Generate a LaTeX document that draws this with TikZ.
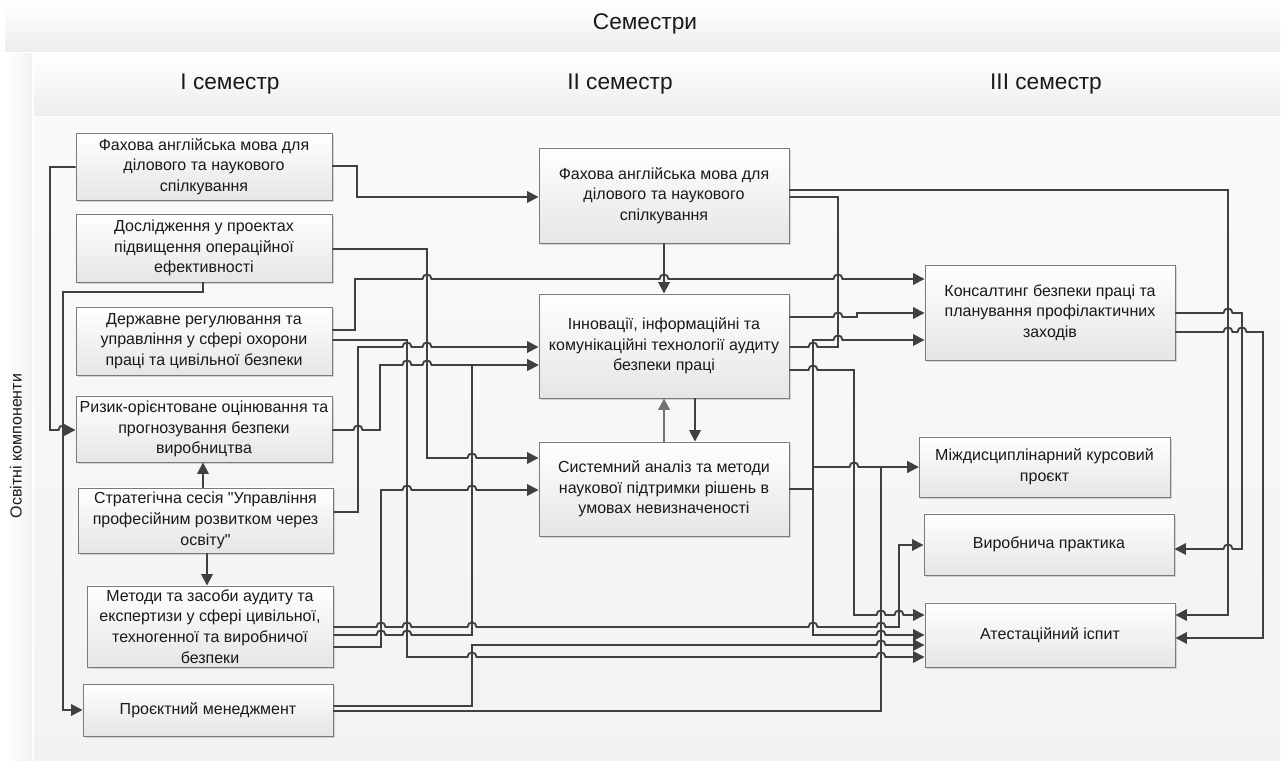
\documentclass[tikz,border=0pt]{standalone}
\usepackage{fontspec}
\setmainfont{Liberation Sans}
\newfontfamily\arialf{Liberation Sans}
\usetikzlibrary{arrows.meta,shadows}
\definecolor{ln}{HTML}{404040}
\definecolor{bx}{HTML}{7A7A7A}
\newcommand{\hj}[2]{-- ({#1-4.5},#2) .. controls ({#1-4.5},{#2-6}) and ({#1+4.5},{#2-6}) .. ({#1+4.5},#2)}
\newcommand{\hjl}[2]{-- ({#1+4.5},#2) .. controls ({#1+4.5},{#2-6}) and ({#1-4.5},{#2-6}) .. ({#1-4.5},#2)}
\tikzset{
  box/.style={draw=bx, line width=0.7pt, top color=white, bottom color=black!10,
    align=center, inner sep=0pt, font=\arialf\fontsize{12}{15.5}\selectfont, text=black!90,
    drop shadow={shadow xshift=1.3pt, shadow yshift=-1.3pt, fill=black!30, opacity=0.5}},
  conn/.style={draw=ln, line width=1.4pt},
  arr/.style={conn, -{Triangle[length=8.5pt,width=8.5pt]}},
  hdr/.style={font=\arialf\fontsize{17}{20}\selectfont, text=black!90, inner sep=0pt}
}
\begin{document}
\begin{tikzpicture}[x=0.75pt,y=-0.75pt]
\useasboundingbox (0,0) rectangle (1282,762);
\fill[white] (0,0) rectangle (1282,762);
% bands
\shade[top color=white, bottom color=black!7] (5,0) rectangle (1280,52);
\shade[left color=white, right color=black!5] (5,54) rectangle (32,760);
\shade[top color=white, bottom color=black!7] (34,54) rectangle (1280,116);
\shade[top color=black!2, bottom color=black!5] (34,118) rectangle (1280,760);
% headers
\node[hdr] (sem) at (645,24) {Семестри};
\node[hdr] (s1) at (230,84) {I семестр};
\node[hdr] (s2) at (620,84) {II семестр};
\node[hdr] (s3) at (1046,84) {III семестр};
\node[rotate=90, font=\arialf\fontsize{12}{14}\selectfont, text=black!90, inner sep=0pt] (lab) at (16,446) {Освітні компоненти};
% boxes
\node[box, minimum width=192pt, minimum height=50.25pt] (A1) at (204,166.5) {Фахова англійська мова для\\ділового та наукового\\спілкування};
\node[box, minimum width=192pt, minimum height=51pt] (A2) at (204,248) {Дослідження у проектах\\підвищення операційної\\ефективності};
\node[box, minimum width=192pt, minimum height=51pt] (A3) at (204,341) {Державне регулювання та\\управління у сфері охорони\\праці та цивільної безпеки};
\node[box, minimum width=192pt, minimum height=49.5pt] (A4) at (204,429) {Ризик-орієнтоване оцінювання та\\прогнозування безпеки\\виробництва};
\node[box, minimum width=191.25pt, minimum height=48.75pt] (A5) at (205.5,520.5) {Стратегічна сесія "Управління\\професійним розвитком через\\освіту"};
\node[box, minimum width=184.5pt, minimum height=60.75pt] (A6) at (210,626.5) {Методи та засоби аудиту та\\експертизи у сфері цивільної,\\техногенної та виробничої\\безпеки};
\node[box, minimum width=187.5pt, minimum height=39pt] (A7) at (208,710) {Проєктний менеджмент};
\node[box, minimum width=187.5pt, minimum height=71.25pt] (B1) at (664,195.5) {Фахова англійська мова для\\ділового та наукового\\спілкування};
\node[box, minimum width=187.5pt, minimum height=78pt] (B2) at (664,346) {Інновації, інформаційні та\\комунікаційні технології аудиту\\безпеки праці};
\node[box, minimum width=187.5pt, minimum height=70.5pt] (B3) at (664,489) {Системний аналіз та методи\\наукової підтримки рішень в\\умовах невизначеності};
\node[box, minimum width=187.5pt, minimum height=71.25pt] (C1) at (1050,312.5) {Консалтинг безпеки праці та\\планування профілактичних\\заходів};
\node[box, minimum width=188.25pt, minimum height=45pt] (C2) at (1044.5,467) {Міждисциплінарний курсовий\\проєкт};
\node[box, minimum width=187.5pt, minimum height=45.75pt] (C3) at (1049,544.5) {Виробнича практика};
\node[box, minimum width=187.5pt, minimum height=48pt] (C4) at (1050,635) {Атестаційний іспит};
% connectors, column I
\draw[arr] (A1.west |- 0,167) -- (50,167) -- (50,430) \hj{63}{430} -- (A4.west |- 0,430);
\draw[arr] (A2.south -| 203,0) -- (203,292) -- (63,292) -- (63,710) -- (A7.west |- 0,710);
\draw[arr] (A1.east |- 0,166) -- (357,166) -- (357,197) -- (B1.west |- 0,197);
\draw[arr] (A2.east |- 0,249) -- (427,249) -- (427,458) \hj{472}{458} -- (B3.west |- 0,458);
\draw[arr] (A3.east |- 0,330) -- (355,330) -- (355,279) \hj{427}{279} \hj{664}{279} \hj{838}{279} -- (C1.west |- 0,279);
\draw[arr] (A3.east |- 0,340) -- (407,340) -- (407,657) \hj{472}{657} \hj{881}{657} -- (C4.west |- 0,657);
\draw[arr] (A4.east |- 0,430) \hj{358}{430} -- (380,430) -- (380,365) \hj{407}{365} \hj{427}{365} -- (B2.west |- 0,365);
\draw[arr] (A5.east |- 0,512) -- (358,512) -- (358,347) \hj{407}{347} \hj{427}{347} -- (B2.west |- 0,347);
\draw[arr] (A5.north -| 203,0) -- (A4.south -| 203,0);
\draw[arr] (A5.south -| 207,0) -- (A6.north -| 207,0);
\draw[arr] (A6.east |- 0,627) \hj{381}{627} \hj{407}{627} \hj{472}{627} \hj{813}{627} \hj{881}{627} -- (899,627) -- (899,545) -- (C3.west |- 0,545);
\draw[arr] (A6.east |- 0,635) \hj{381}{635} \hj{407}{635} -- (472,635) -- (472,365) -- (B2.west |- 0,365);
\draw[arr] (A6.east |- 0,647) -- (381,647) -- (381,490) \hj{407}{490} \hj{472}{490} -- (B3.west |- 0,490);
\draw[arr] (A7.east |- 0,706) -- (472,706) -- (472,645) \hj{881}{645} -- (C4.west |- 0,645);
\draw[arr] (A7.east |- 0,711) -- (881,711) -- (881,467) -- (C2.west |- 0,467);
% column II
\draw[arr] (B1.south) -- (B2.north);
\draw[arr, draw=black!55] (B3.north) -- (B2.south);
\draw[arr] (B2.south -| 695,0) -- (B3.north -| 695,0);
\draw[arr] (B1.east |- 0,190) -- (1228,190) -- (1228,615) -- (C4.east |- 0,615);
\draw[conn] (B2.east |- 0,347) \hj{813}{347} -- (838,347) -- (838,197) -- (B1.east |- 0,197);
\draw[arr] (B2.east |- 0,317) \hj{838}{317} -- (857,317) -- (857,313) -- (C1.west |- 0,313);
\draw[arr] (B3.east |- 0,489) -- (813,489) -- (813,340) \hj{838}{340} -- (C1.west |- 0,340);
\draw[arr] (B3.east |- 0,489) -- (813,489) -- (813,467) \hj{854}{467} -- (C2.west |- 0,467);
\draw[arr] (B3.east |- 0,489) -- (813,489) -- (813,635) \hj{881}{635} -- (C4.west |- 0,635);
\draw[arr] (B2.east |- 0,370) \hj{813}{370} -- (854,370) -- (854,615) \hj{881}{615} \hj{899}{615} -- (C4.west |- 0,615);
% column III
\draw[arr] (C1.east |- 0,313) \hj{1228}{313} -- (1242,313) -- (1242,549) \hjl{1228}{549} -- (C3.east |- 0,549);
\draw[arr] (C1.east |- 0,332) \hj{1228}{332} \hj{1242}{332} -- (1263,332) -- (1263,638) -- (C4.east |- 0,638);
\end{tikzpicture}
\end{document}
